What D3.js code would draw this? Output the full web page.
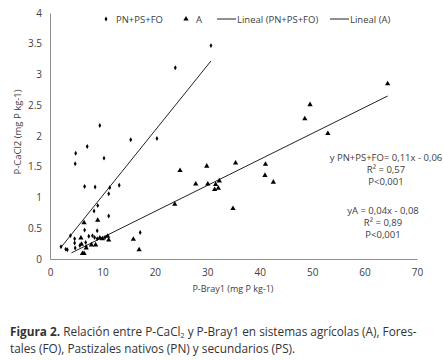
<!DOCTYPE html>
<html>
<head>
<meta charset="utf-8">
<script src="https://cdn.jsdelivr.net/npm/d3@7"></script>
<style>
  body { margin: 0; background: #fff; }
  text { font-family: "Open Sans", sans-serif; }
</style>
</head>
<body>
<div id="chart"></div>
<script>
// P-Bray1 (x) and P-CaCl2 (y)
var pnX = [2.1, 3.0, 3.3, 3.9, 4.7, 4.7, 4.8, 4.8, 4.9, 5.7, 6.6, 6.6, 6.8, 6.9, 7.1, 7.4, 8.1, 8.4, 8.5, 8.6,
           9.0, 9.0, 9.1, 9.5, 10.3, 10.5, 11.2, 11.2, 11.4, 13.2, 15.4, 17.2, 20.4, 23.9, 30.7];
var pnY = [0.20, 0.16, 0.15, 0.38, 0.33, 0.26, 0.18, 1.55, 1.72, 0.22, 1.18, 0.47, 0.27, 0.20, 1.83, 0.37, 0.38, 0.78, 0.35, 1.17,
           0.46, 0.33, 0.87, 2.17, 1.64, 0.35, 0.70, 1.06, 1.16, 1.20, 1.94, 0.43, 1.96, 3.11, 3.47];

var aX = [5.9, 6.0, 6.2, 6.5, 6.5, 6.9, 7.9, 8.7, 9.1, 9.5, 10.0, 11.0, 11.2, 15.9, 17.0, 23.8, 24.8, 27.8, 29.9, 30.1,
          31.4, 31.6, 32.1, 32.3, 34.9, 35.4, 41.0, 41.1, 42.6, 48.6, 49.6, 53.0, 64.4];
var aY = [0.34, 0.24, 0.09, 0.09, 0.59, 0.18, 0.23, 0.23, 0.63, 0.34, 0.33, 0.37, 0.31, 0.32, 0.15, 0.89, 1.44, 1.22, 1.51, 1.22,
          1.13, 1.21, 1.15, 1.27, 0.82, 1.56, 1.36, 1.54, 1.25, 2.28, 2.51, 2.04, 2.85];

// trend lines (end points)
var trendPnX = [2.1, 30.7], trendPnY = [0.19, 3.22];
var trendAX = [4.1, 64.4], trendAY = [0.10, 2.65];

var xTicks = [0, 10, 20, 30, 40, 50, 60, 70];
var yTicks = [0, 0.5, 1, 1.5, 2, 2.5, 3, 3.5, 4];

var legendItems = ["PN+PS+FO", "A", "Lineal (PN+PS+FO)", "Lineal (A)"];
var eqPn = ["y PN+PS+FO= 0,11x - 0,06", "R² = 0,57", "P<0,001"];
var eqA = ["yA = 0,04x - 0,08", "R² = 0,89", "P<0,001"];

var width = 443, height = 360;
var svg = d3.select("#chart").append("svg")
    .attr("width", width)
    .attr("height", height);

var x = d3.scaleLinear().domain([0, 70]).range([50, 417]);
var y = d3.scaleLinear().domain([0, 4]).range([259, 13]);

var textCol = "#404040";

// axes
var xAxis = svg.append("g")
    .attr("transform", "translate(0," + y(0) + ")")
    .call(d3.axisBottom(x).tickValues(xTicks).tickSize(0).tickPadding(10).tickFormat(d3.format("d")));
var yAxis = svg.append("g")
    .attr("transform", "translate(" + x(0) + ",0)")
    .call(d3.axisLeft(y).tickValues(yTicks).tickSize(0).tickPadding(8).tickFormat(function(d) { return String(d); }));

[xAxis, yAxis].forEach(function(a) {
    a.select(".domain").attr("stroke", "#8c8c8c").attr("stroke-width", 1);
    a.selectAll("text").attr("fill", textCol).style("font-size", "10px").style("font-family", "'Open Sans', sans-serif");
});

// axis titles
svg.append("text")
    .attr("x", 233).attr("y", 292)
    .attr("text-anchor", "middle")
    .attr("fill", textCol)
    .style("font-size", "9px")
    .text("P-Bray1 (mg P kg-1)");

svg.append("text")
    .attr("transform", "translate(21,132) rotate(-90)")
    .attr("text-anchor", "middle")
    .attr("fill", textCol)
    .style("font-size", "9.5px")
    .text("P-CaCl2 (mg P kg-1)");

// trend lines
var line = d3.line().x(function(d) { return x(d[0]); }).y(function(d) { return y(d[1]); });
svg.append("path")
    .attr("d", line(d3.zip(trendPnX, trendPnY)))
    .attr("stroke", "#222").attr("stroke-width", 1).attr("fill", "none");
svg.append("path")
    .attr("d", line(d3.zip(trendAX, trendAY)))
    .attr("stroke", "#222").attr("stroke-width", 1).attr("fill", "none");

// markers
var tri = d3.symbol().type(d3.symbolTriangle).size(12);
var dot = d3.symbol().type(d3.symbolDiamond).size(7);

svg.append("g").selectAll("path")
    .data(d3.zip(pnX, pnY))
    .enter().append("path")
    .attr("d", dot)
    .attr("transform", function(d) { return "translate(" + x(d[0]) + "," + y(d[1]) + ")"; })
    .attr("fill", "#000");

svg.append("g").selectAll("path")
    .data(d3.zip(aX, aY))
    .enter().append("path")
    .attr("d", tri)
    .attr("transform", function(d) { return "translate(" + x(d[0]) + "," + y(d[1]) + ")"; })
    .attr("fill", "#000");

// legend
var leg = svg.append("g").attr("fill", textCol).style("font-size", "9.5px");
leg.append("path").attr("d", dot).attr("transform", "translate(106,19)").attr("fill", "#000");
leg.append("text").attr("x", 116).attr("y", 22.5).text(legendItems[0]);
leg.append("path").attr("d", tri).attr("transform", "translate(186,19)").attr("fill", "#000");
leg.append("text").attr("x", 196).attr("y", 22.5).text(legendItems[1]);
leg.append("line").attr("x1", 217).attr("x2", 236).attr("y1", 19).attr("y2", 19).attr("stroke", "#222");
leg.append("text").attr("x", 237).attr("y", 22.5).text(legendItems[2]);
leg.append("line").attr("x1", 330).attr("x2", 349).attr("y1", 19).attr("y2", 19).attr("stroke", "#222");
leg.append("text").attr("x", 350).attr("y", 22.5).text(legendItems[3]);

// equations
var eq = svg.append("g").attr("fill", textCol).style("font-size", "9.5px").attr("text-anchor", "middle");
eqPn.forEach(function(t, i) {
    eq.append("text").attr("x", 386).attr("y", 161 + i * 12).text(t);
});
eqA.forEach(function(t, i) {
    eq.append("text").attr("x", 383).attr("y", 214 + i * 12).text(t);
});

// caption
var cap = svg.append("g").attr("fill", "#333").style("font-size", "11.8px");
var l1 = cap.append("text").attr("x", 10).attr("y", 336);
l1.append("tspan").attr("font-weight", "bold").text("Figura 2.");
l1.append("tspan").text(" Relación entre P-CaCl");
l1.append("tspan").attr("font-size", "7px").attr("dy", 2).text("2");
l1.append("tspan").attr("dy", -2).text(" y P-Bray1 en sistemas agrícolas (A), Fores-");
cap.append("text").attr("x", 10).attr("y", 353)
    .text("tales (FO), Pastizales nativos (PN) y secundarios (PS).");
</script>
</body>
</html>
